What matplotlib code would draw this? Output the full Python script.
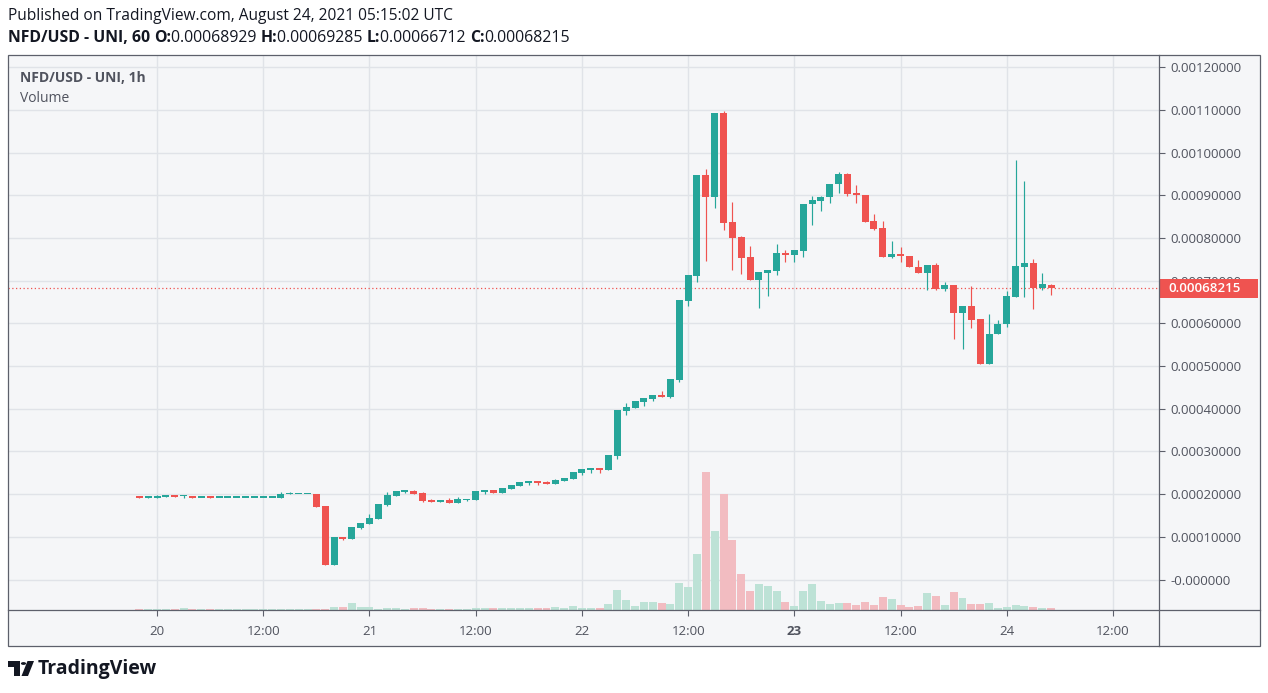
import matplotlib
matplotlib.use('Agg')
import matplotlib.pyplot as plt
import matplotlib.patches as mpatches
import matplotlib.transforms as mtransforms
from matplotlib.lines import Line2D
import numpy as np
import pandas as pd

plt.rcParams['font.family'] = ['Open Sans', 'DejaVu Sans']

# hourly candles, NFD/USD on Uniswap, 19 Aug 22:00 -> 24 Aug 05:00 UTC
times = pd.date_range('2021-08-19 22:00', periods=104, freq='h')

opens = [
    0.000195, 0.000192, 0.000192, 0.000194, 0.000198, 0.0001945, 0.0001955, 0.000192, 0.000193, 0.000192,
    0.000192, 0.000192, 0.000192, 0.000192, 0.000192, 0.000192, 0.000192, 0.0002, 0.0002, 0.0002,
    0.0002, 0.000172, 0.0000347, 0.0000988, 0.0000956, 0.0001213, 0.0001307, 0.000142, 0.000175, 0.000196,
    0.000206, 0.0002073, 0.0002026, 0.000186, 0.000182, 0.000186, 0.00018, 0.000187, 0.000187, 0.000205,
    0.00021, 0.0002026, 0.000212, 0.000219, 0.000226, 0.000231, 0.000228, 0.000224, 0.000231, 0.000235,
    0.000249, 0.0002565, 0.000261, 0.0002565, 0.000289, 0.000395, 0.000402, 0.000416, 0.000423, 0.000432,
    0.000427, 0.000467, 0.000652, 0.000711, 0.000947, 0.000896, 0.0010925, 0.000837, 0.000802, 0.000755,
    0.000701, 0.000718, 0.0007225, 0.000765, 0.00076, 0.000769, 0.000879, 0.000887, 0.000895, 0.000926,
    0.00095, 0.000905, 0.0009, 0.00084, 0.000823, 0.000755, 0.000762, 0.000758, 0.000732, 0.000718,
    0.000737, 0.00068, 0.00069, 0.000624, 0.00064, 0.00061, 0.000505, 0.000575, 0.000598, 0.000662,
    0.000732, 0.000741, 0.000683, 0.00068929]

highs = [
    0.000195, 0.000193, 0.000199, 0.000199, 0.000199, 0.000199, 0.0001955, 0.000192, 0.0001955, 0.000192,
    0.000192, 0.000192, 0.000192, 0.000192, 0.000192, 0.000192, 0.000205, 0.000205, 0.0002, 0.0002,
    0.0002, 0.000172, 0.0000988, 0.0000988, 0.000123, 0.0001323, 0.0001534, 0.0001768, 0.000205, 0.000207,
    0.0002073, 0.00021, 0.000205, 0.0001885, 0.000186, 0.000191, 0.000193, 0.000188, 0.000207, 0.00021,
    0.00021, 0.0002143, 0.000221, 0.000228, 0.000231, 0.000231, 0.000231, 0.000235, 0.000238, 0.000252,
    0.000259, 0.000261, 0.000261, 0.000292, 0.000397, 0.000413, 0.000418, 0.000425, 0.000432, 0.0004415,
    0.00047, 0.000655, 0.000713, 0.000947, 0.000961, 0.0010925, 0.001097, 0.000884, 0.000804, 0.000781,
    0.00072, 0.000725, 0.000785, 0.000772, 0.000772, 0.00088, 0.000898, 0.000898, 0.000926, 0.000954,
    0.000952, 0.000924, 0.0009, 0.000856, 0.00084, 0.000793, 0.000779, 0.000758, 0.000748, 0.000737,
    0.000741, 0.000697, 0.00069, 0.00064, 0.000687, 0.00061, 0.000622, 0.000608, 0.000676, 0.000982,
    0.000933, 0.000751, 0.000718, 0.00069285]

lows = [
    0.000191, 0.000192, 0.000192, 0.000194, 0.000194, 0.000192, 0.000192, 0.000192, 0.000192, 0.000192,
    0.000192, 0.000192, 0.000192, 0.000192, 0.000192, 0.000192, 0.000192, 0.0002, 0.0002, 0.0002,
    0.0001705, 0.0000347, 0.0000347, 0.000093, 0.0000956, 0.000119, 0.0001307, 0.000142, 0.000173, 0.000196,
    0.000202, 0.000201, 0.0001815, 0.000182, 0.000182, 0.00018, 0.00018, 0.000183, 0.000187, 0.0002,
    0.0002026, 0.0002026, 0.000212, 0.000219, 0.000221, 0.000221, 0.000224, 0.000224, 0.000231, 0.000235,
    0.000245, 0.000249, 0.000249, 0.0002565, 0.000283, 0.000385, 0.000402, 0.000406, 0.000418, 0.000427,
    0.000425, 0.000463, 0.00064, 0.000697, 0.000746, 0.00087, 0.0008185, 0.000725, 0.0007155, 0.000701,
    0.000636, 0.000664, 0.000713, 0.000744, 0.000744, 0.000755, 0.00083, 0.000863, 0.000882, 0.000905,
    0.000899, 0.000882, 0.000837, 0.0008185, 0.000755, 0.000753, 0.000744, 0.000732, 0.000718, 0.000678,
    0.000678, 0.000676, 0.000563, 0.00054, 0.000589, 0.000505, 0.000505, 0.000575, 0.000591, 0.000662,
    0.000662, 0.000634, 0.000678, 0.00066712]

closes = [
    0.000192, 0.000193, 0.0001955, 0.000198, 0.000194, 0.000195, 0.000192, 0.000192, 0.000192, 0.0001921,
    0.0001921, 0.0001921, 0.0001921, 0.0001921, 0.0001921, 0.0001921, 0.0002, 0.0002, 0.0002, 0.0002,
    0.0001705, 0.0000347, 0.0000988, 0.0000953, 0.000123, 0.0001323, 0.000144, 0.0001768, 0.000198, 0.000207,
    0.000207, 0.000201, 0.0001838, 0.000182, 0.000186, 0.00018, 0.000188, 0.000188, 0.000207, 0.00021,
    0.0002026, 0.0002143, 0.000221, 0.000228, 0.000231, 0.000226, 0.000224, 0.000233, 0.000238, 0.000252,
    0.000259, 0.000261, 0.0002565, 0.000292, 0.000397, 0.000404, 0.000418, 0.000425, 0.000432, 0.000427,
    0.00047, 0.000655, 0.000713, 0.000947, 0.000896, 0.0010925, 0.000835, 0.0008, 0.000753, 0.000701,
    0.00072, 0.000725, 0.000765, 0.00076, 0.000772, 0.00088, 0.000889, 0.000896, 0.000926, 0.00095,
    0.000903, 0.0009, 0.000837, 0.000821, 0.000755, 0.000762, 0.000758, 0.000732, 0.000718, 0.000737,
    0.00068, 0.00069, 0.000624, 0.00064, 0.000608, 0.000505, 0.000575, 0.000598, 0.000664, 0.000734,
    0.000741, 0.000683, 0.000692, 0.00068215]

# volume (arbitrary units)
volumes = [
    1, 1, 1, 1, 1, 2.3, 1, 1, 1, 1,
    1, 1, 1, 1, 1, 1, 1, 1, 1, 1,
    1, 1, 3, 3, 7, 3, 3, 1, 2, 2,
    1, 2, 2, 1, 1, 1, 1, 1, 2, 2,
    2, 2, 2, 2, 2, 2, 2, 3, 2, 4,
    2, 2, 2, 6, 20, 10, 4, 8, 8, 7,
    6, 27, 23, 56, 138, 79, 116, 70, 36, 19,
    26, 24, 19, 8, 4, 19, 26, 9, 6, 7,
    7, 5, 8, 5, 13, 11, 5, 3, 4, 17,
    14, 5, 18, 12, 6, 6, 7, 2, 3, 5,
    4, 3, 2, 2]

last_price = 0.00068215
price_ticks = [0.0, 0.0001, 0.0002, 0.0003, 0.0004, 0.0005, 0.0006, 0.0007,
               0.0008, 0.0009, 0.0010, 0.0011, 0.0012]
time_ticks = pd.date_range('2021-08-20 00:00', periods=10, freq='12h')
time_labels = ['20', '12:00', '21', '12:00', '22', '12:00', '23', '12:00', '24', '12:00']

UP = '#26a69a'
DOWN = '#ef5350'
VUP = '#bde2d6'
VDOWN = '#f2bcc1'
BG = '#f5f6f8'
GRID = '#e0e3e8'
TXT = '#50535e'
FRAME = '#5d606b'

W, H = 1268, 693
fig = plt.figure(figsize=(W / 100, H / 100), dpi=100)
fig.patch.set_facecolor('white')

def fx(x):
    return x / W

def fy(y):
    return 1 - y / H

# chart panel background
fig.add_artist(mpatches.Rectangle((fx(8), fy(646)), fx(1252), 591 / H,
                                  transform=fig.transFigure, facecolor=BG,
                                  edgecolor='none', zorder=-5))

rect = [fx(8), fy(610), (1159 - 8) / W, (610 - 55) / H]
ax = fig.add_axes(rect)
ax.set_facecolor(BG)
for s in ax.spines.values():
    s.set_visible(False)

x = matplotlib.dates.date2num(times)
o = np.array(opens); h = np.array(highs); l = np.array(lows); c = np.array(closes)
up = c >= o
cols = np.where(up, UP, DOWN)
bw = 0.79 / 24

ax.vlines(x, l, h, colors=cols, linewidth=0.85, zorder=3)
body_lo = np.minimum(o, c)
body_h = np.maximum(np.abs(c - o), 2.6e-6)
ax.bar(x, body_h, bottom=body_lo, width=bw, color=cols, linewidth=0, zorder=4)

t0 = matplotlib.dates.date2num(pd.Timestamp('2021-08-20'))
ax.set_xlim(t0 - 16.84 / 24, t0 + 113.2 / 24)
ax.set_ylim(-0.0000714, 0.0012284)

ax.set_yticks(price_ticks)
ax.set_yticklabels(['-0.000000' if v == 0 else '%.8f' % v for v in price_ticks])
ax.yaxis.tick_right()
ax.set_xticks(matplotlib.dates.date2num(time_ticks))
ax.set_xticklabels(time_labels)
for lab in ax.get_xticklabels():
    if lab.get_text() == '23':
        lab.set_fontweight('bold')
ax.tick_params(axis='y', length=4, width=0.8, color=FRAME, labelcolor=TXT,
               labelsize=9.5, pad=4)
ax.tick_params(axis='x', length=4, width=0.8, color=FRAME, labelcolor=TXT,
               labelsize=9.5, pad=7)
ax.grid(True, color=GRID, linewidth=1.0, zorder=0)
ax.set_axisbelow(True)

# last price line and label (covers the 0.0007 tick label, as in the original)
ax.axhline(last_price, color=DOWN, linestyle=(0, (1, 2)), linewidth=0.9, zorder=2)
blend = mtransforms.blended_transform_factory(ax.transAxes, ax.transData)
box_h = 19 / 42.7 * 0.0001
ax.add_patch(mpatches.Rectangle((1.0, last_price - box_h / 2), 99 / 1151, box_h,
                                transform=blend, facecolor=DOWN, edgecolor='none',
                                clip_on=False, zorder=10))
ax.text(1.0 + 9 / 1151, last_price, '%.8f' % last_price, transform=blend,
        color='white', fontsize=9.5, fontweight='semibold', va='center', ha='left',
        zorder=11, clip_on=False)

# pane legend
ax.text(12 / 1151, 1 - 23 / 555, 'NFD/USD - UNI, 1h', transform=ax.transAxes,
        color=TXT, fontsize=10, fontweight='bold', va='center', ha='left')
ax.text(12 / 1151, 1 - 43 / 555, 'Volume', transform=ax.transAxes,
        color=TXT, fontsize=10, va='center', ha='left')

# volume overlay
axv = fig.add_axes(rect, sharex=ax)
axv.patch.set_visible(False)
axv.axis('off')
vcols = np.where(up, VUP, VDOWN)
axv.bar(x, volumes, width=0.9 / 24, color=vcols, linewidth=0)
axv.set_ylim(0, max(volumes) * 555 / 138)
axv.set_xlim(t0 - 16.84 / 24, t0 + 113.2 / 24)

# frame lines
fig.add_artist(mpatches.Rectangle((fx(8), fy(646)), fx(1252), 591 / H,
                                  transform=fig.transFigure, facecolor='none',
                                  edgecolor=FRAME, linewidth=0.9, zorder=20))
fig.add_artist(Line2D([fx(1159), fx(1159)], [fy(55), fy(646)],
                      transform=fig.transFigure, color=FRAME, linewidth=0.9, zorder=20))
fig.add_artist(Line2D([fx(8), fx(1260)], [fy(610), fy(610)],
                      transform=fig.transFigure, color=FRAME, linewidth=0.9, zorder=20))

# header
fig.text(fx(8), fy(16), 'Published on TradingView.com, August 24, 2021 05:15:02 UTC',
         fontsize=11.2, color='#131722', va='center', ha='left')

pieces = [('NFD/USD - UNI, 60 ', 'bold'), ('O:', 'bold'), ('0.00068929 ', 'normal'),
          ('H:', 'bold'), ('0.00069285 ', 'normal'), ('L:', 'bold'),
          ('0.00066712 ', 'normal'), ('C:', 'bold'), ('0.00068215', 'normal')]
renderer = fig.canvas.get_renderer()
cx = 8
for txt, wt in pieces:
    t = fig.text(fx(cx), fy(38), txt, fontsize=11.4, fontweight=wt,
                 color='#131722', va='center', ha='left')
    bb = t.get_window_extent(renderer=renderer)
    cx += bb.width

# logo
lc = '#131722'
fig.add_artist(mpatches.Polygon([(fx(8), fy(661)), (fx(20), fy(661)), (fx(20), fy(676)),
                                 (fx(14), fy(676)), (fx(14), fy(667)), (fx(8), fy(667))],
                                closed=True, transform=fig.transFigure, facecolor=lc,
                                edgecolor='none'))
fig.add_artist(mpatches.Circle((fx(23.5), fy(663.5)), 2.6 / W, transform=fig.transFigure,
                               facecolor=lc, edgecolor='none'))
fig.add_artist(mpatches.Polygon([(fx(27.5), fy(661)), (fx(34), fy(661)), (fx(28), fy(676)),
                                 (fx(21.5), fy(676))],
                                closed=True, transform=fig.transFigure, facecolor=lc,
                                edgecolor='none'))
fig.text(fx(38), fy(669), 'TradingView', fontsize=14, fontweight='bold',
         color=lc, va='center', ha='left')

fig.savefig('out.png', dpi=100)
